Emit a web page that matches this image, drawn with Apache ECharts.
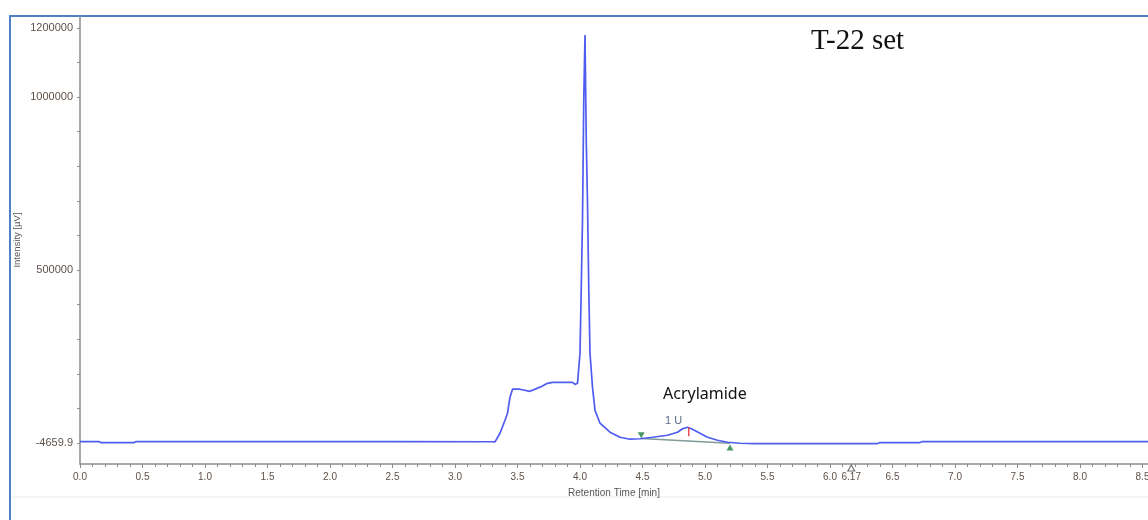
<!DOCTYPE html>
<html>
<head>
<meta charset="utf-8">
<script src="https://cdn.jsdelivr.net/npm/echarts@6/dist/echarts.min.js"></script>
<style>
  html, body { margin: 0; padding: 0; background: #fff; }
  #main { width: 1148px; height: 520px; }
</style>
</head>
<body>
<div id="main"></div>
<script>
// chromatogram, retention time [min] vs intensity [uV]
const retentionTime = [
  0.00, 0.15, 0.17, 0.43, 0.45, 1.5, 2.5, 3.30, 3.32, 3.36, 3.40, 3.42, 3.44, 3.46,
  3.52, 3.60, 3.68, 3.74, 3.78, 3.94, 3.96, 3.98, 4.00, 4.01, 4.02, 4.03, 4.04,
  4.05, 4.06, 4.07, 4.08, 4.10, 4.12, 4.16, 4.24, 4.32, 4.40, 4.48, 4.58, 4.70,
  4.78, 4.82, 4.86, 4.90, 4.96, 5.02, 5.10, 5.18, 5.28, 5.40, 6.00, 6.38, 6.40,
  6.72, 6.74, 7.5, 8.6
]
const intensity = [
  4900, 4900, 1500, 1500, 4900, 4600, 4600, 4300, 3800, 28900, 66500, 86700, 133000, 156000,
  156000, 150000, 162000, 173000, 176000, 176000, 170000, 173000, 260000, 450000, 645000, 991000, 1179000,
  876000, 694000, 450000, 260000, 162000, 95000, 57800, 31800, 17300, 11600, 13000, 17300, 23100,
  31800, 41900, 46200, 40500, 28900, 17300, 8700, 2900, 0, -1400, -1400, -900, 2000,
  2000, 4900, 4900, 4900
]
// peak integration: start, apex, end
const peakTimes = [4.49, 4.87, 5.20]
const peakMarkValues = [23000, 46000, -12000]
const peakBaseline = [14000, 0]
const apexTickBottom = 20000
const markerTime = 6.17

const yTickValues = [0, 100000, 200000, 300000, 400000, 500000, 600000, 700000, 800000, 900000, 1000000, 1100000, 1200000]
const yLabelValues = [0, 500000, 1000000, 1200000]
const xLabelValues = [0, 0.5, 1, 1.5, 2, 2.5, 3, 3.5, 4, 4.5, 5, 5.5, 6, 6.17, 6.5, 7, 7.5, 8, 8.5]

const chart = echarts.init(document.getElementById('main'))

const axisGray = '#8c8c8c'
const labelColor = '#5e524b'

const option = {
  animation: false,
  grid: { left: 80, right: 0, top: 16, bottom: 56, outerBoundsMode: 'none' },
  xAxis: {
    type: 'value',
    min: 0,
    max: 8.544,
    interval: 0.5,
    name: 'Retention Time [min]',
    nameLocation: 'middle',
    nameGap: 24,
    nameTextStyle: { fontSize: 10, color: '#555', fontFamily: 'Liberation Sans' },
    axisLine: { onZero: false, lineStyle: { color: axisGray, width: 1.5 } },
    axisTick: { show: true, length: 4, lineStyle: { color: axisGray } },
    minorTick: { show: true, splitNumber: 5, length: 3, lineStyle: { color: axisGray } },
    splitLine: { show: false },
    axisLabel: {
      customValues: xLabelValues,
      margin: 8,
      fontSize: 10,
      color: labelColor,
      fontFamily: 'Liberation Sans',
      formatter: v => (Math.abs(v - markerTime) < 1e-6 ? '6.17' : v.toFixed(1))
    }
  },
  yAxis: {
    type: 'value',
    min: -60000,
    max: 1234000,
    axisLine: { show: true, lineStyle: { color: axisGray, width: 1.5 } },
    axisTick: { show: true, length: 3, customValues: yTickValues, lineStyle: { color: axisGray } },
    splitLine: { show: false },
    axisLabel: {
      customValues: yLabelValues,
      margin: 7,
      fontSize: 11,
      color: labelColor,
      fontFamily: 'Liberation Sans',
      formatter: v => (v === 0 ? '-4659.9' : String(v))
    }
  },
  graphic: [
    {
      type: 'rect',
      shape: { x: 10, y: 16, width: 1200, height: 600 },
      style: { fill: 'none', stroke: '#4f81c4', lineWidth: 2 },
      silent: true
    },
    {
      type: 'line',
      shape: { x1: 11, y1: 497, x2: 1148, y2: 497 },
      style: { stroke: '#ececec', lineWidth: 1 },
      silent: true
    },
    {
      type: 'text',
      x: 17,
      y: 240,
      rotation: Math.PI / 2,
      style: {
        text: 'Intensity [µV]',
        font: '9.5px "Liberation Sans"',
        fill: '#555',
        align: 'center',
        verticalAlign: 'middle'
      }
    },
    {
      type: 'text',
      left: 811,
      top: 27,
      style: { text: 'T-22 set', font: '29px "Liberation Serif"', fill: '#111' }
    },
    {
      type: 'text',
      left: 663,
      top: 386,
      style: { text: 'Acrylamide', font: '16px "Noto Sans"', fill: '#111' }
    },
    {
      type: 'text',
      left: 665,
      top: 415,
      style: { text: '1 U', font: '11px "Liberation Sans"', fill: '#5a6a86' }
    }
  ],
  series: [
    {
      type: 'line',
      name: 'signal',
      data: retentionTime.map((t, i) => [t, intensity[i]]),
      showSymbol: false,
      lineStyle: { color: '#4f5cf0', width: 1.7 },
      z: 3
    },
    {
      type: 'line',
      name: 'baseline',
      data: [[peakTimes[0], peakBaseline[0]], [peakTimes[2], peakBaseline[1]]],
      showSymbol: false,
      lineStyle: { color: '#7f9a98', width: 1.5 },
      z: 2
    },
    {
      type: 'line',
      name: 'apex',
      data: [[peakTimes[1], peakMarkValues[1]], [peakTimes[1], apexTickBottom]],
      showSymbol: false,
      lineStyle: { color: '#e8383d', width: 1.3 },
      z: 4
    },
    {
      type: 'scatter',
      name: 'peak start',
      data: [[peakTimes[0], peakMarkValues[0]]],
      symbol: 'triangle',
      symbolRotate: 180,
      symbolSize: [7, 6],
      itemStyle: { color: '#1e7b3c' },
      z: 5
    },
    {
      type: 'scatter',
      name: 'peak end',
      data: [[peakTimes[2], peakMarkValues[2]]],
      symbol: 'triangle',
      symbolSize: [7, 6],
      itemStyle: { color: '#1e7b3c' },
      z: 5
    },
    {
      type: 'scatter',
      name: 'marker',
      data: [[markerTime, -60000]],
      symbol: 'triangle',
      symbolSize: [7, 6],
      symbolOffset: [0, 4],
      clip: false,
      itemStyle: { color: '#fff', borderColor: '#444', borderWidth: 1 },
      z: 5
    }
  ]
}

chart.setOption(option)
</script>
</body>
</html>
